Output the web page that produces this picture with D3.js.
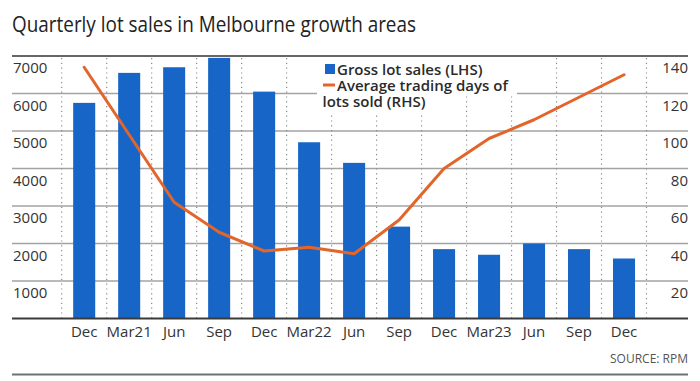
<!DOCTYPE html>
<html>
<head>
<meta charset="utf-8">
<script src="https://cdn.jsdelivr.net/npm/d3@7/dist/d3.min.js"></script>
<style>
  html, body { margin: 0; padding: 0; background: #fff; }
  svg { display: block; font-family: "Open Sans", "Noto Sans", sans-serif; }
</style>
</head>
<body>
<svg id="chart" width="700" height="381"></svg>
<script>
// ---- Data ----
const quarters = ["2020Q4","2021Q1","2021Q2","2021Q3","2021Q4","2022Q1","2022Q2","2022Q3","2022Q4","2023Q1","2023Q2","2023Q3","2023Q4"];
const tickLabels = ["Dec","Mar21","Jun","Sep","Dec","Mar22","Jun","Sep","Dec","Mar23","Jun","Sep","Dec"];
const lotSales = [5750, 6550, 6700, 6950, 6050, 4700, 4150, 2450, 1850, 1700, 2000, 1850, 1600];
const tradingDays = [134, 98, 62, 46, 36, 38, 34.5, 52.5, 80, 96, 106, 118, 130];
const leftTicks = [1000, 2000, 3000, 4000, 5000, 6000, 7000];
const rightTicks = [20, 40, 60, 80, 100, 120, 140];

const title = "Quarterly lot sales in Melbourne growth areas";
const legendBars = "Gross lot sales (LHS)";
const legendLine = ["Average trading days of", "lots sold (RHS)"];
const source = "SOURCE: RPM";

// ---- Layout ----
const svg = d3.select("#chart");
const frameL = 12, frameR = 688;
const plotTop = 56, plotBottom = 318.5;
const bandL = 61.7, bandR = 646.5;
const pad = 0.51;

const x = d3.scaleBand().domain(quarters).range([bandL, bandR])
  .paddingInner(pad).paddingOuter(pad / 2);
const yL = d3.scaleLinear().domain([0, 7000]).range([plotBottom, plotTop]);
const yR = d3.scaleLinear().domain([0, 140]).range([plotBottom, plotTop]);

const blue = "#1766c7";
const orange = "#e2652b";
const gridColor = "#a3a3a3";
const textColor = "#333";

// Title
svg.append("text").attr("x", frameL).attr("y", 32)
  .attr("font-size", 21).attr("fill", "#222")
  .attr("textLength", 404).attr("lengthAdjust", "spacingAndGlyphs")
  .text(title);

// Horizontal gridlines (below top)
svg.append("g").selectAll("line").data(leftTicks.filter(d => d < 7000)).join("line")
  .attr("x1", frameL).attr("x2", frameR)
  .attr("y1", d => yL(d)).attr("y2", d => yL(d))
  .attr("stroke", gridColor).attr("stroke-width", 1.3);

// Vertical dotted lines at band boundaries
const step = x.step();
const bounds = d3.range(quarters.length + 1).map(i => bandL + i * step);
svg.append("g").selectAll("line").data(bounds).join("line")
  .attr("x1", d => d).attr("x2", d => d)
  .attr("y1", plotTop + 2).attr("y2", plotBottom)
  .attr("stroke", "#8a8a8a").attr("stroke-width", 1.2)
  .attr("stroke-dasharray", "1.2,3.6");

// Left axis labels (hanging below gridline)
svg.append("g").selectAll("text").data(leftTicks).join("text")
  .attr("x", frameL + 1).attr("y", d => yL(d) + 17)
  .attr("font-size", 15).attr("fill", textColor).text(d => d);

// Right axis labels
svg.append("g").selectAll("text").data(rightTicks).join("text")
  .attr("x", frameR).attr("y", d => yR(d) + 17)
  .attr("text-anchor", "end")
  .attr("font-size", 15).attr("fill", textColor).text(d => d);

// Legend mask (white box hides grid behind legend text)
svg.append("rect").attr("x", 317).attr("y", plotTop + 1.5).attr("width", 200).attr("height", 38).attr("fill", "#fff");
svg.append("rect").attr("x", 317).attr("y", 95).attr("width", 128).attr("height", 19).attr("fill", "#fff");

// Bars
svg.append("g").selectAll("rect").data(quarters).join("rect")
  .attr("x", d => x(d)).attr("width", x.bandwidth())
  .attr("y", (d, i) => yL(lotSales[i]))
  .attr("height", (d, i) => plotBottom - yL(lotSales[i]))
  .attr("fill", blue);

// Top frame line & baseline
svg.append("line").attr("x1", frameL).attr("x2", frameR).attr("y1", plotTop).attr("y2", plotTop)
  .attr("stroke", "#666").attr("stroke-width", 2.2);
svg.append("line").attr("x1", frameL).attr("x2", frameR).attr("y1", plotBottom).attr("y2", plotBottom)
  .attr("stroke", "#3a3a3a").attr("stroke-width", 2);

// Line series
const line = d3.line()
  .x((d, i) => x(quarters[i]) + x.bandwidth() / 2)
  .y(d => yR(d))
  .curve(d3.curveLinear);
svg.append("path").datum(tradingDays).attr("d", line)
  .attr("fill", "none").attr("stroke", orange).attr("stroke-width", 3)
  .attr("stroke-linejoin", "round").attr("stroke-linecap", "round");

// X axis labels
svg.append("g").selectAll("text").data(quarters).join("text")
  .attr("x", d => x(d) + x.bandwidth() / 2).attr("y", 337)
  .attr("text-anchor", "middle").attr("font-size", 15).attr("fill", textColor)
  .text((d, i) => tickLabels[i]);

// Legend
const lg = svg.append("g").attr("font-size", 15).attr("font-weight", 600).attr("fill", "#2a2a2a");
lg.append("rect").attr("x", 325).attr("y", 64).attr("width", 10).attr("height", 10).attr("fill", blue);
lg.append("text").attr("x", 337).attr("y", 75).text(legendBars);
lg.append("line").attr("x1", 323).attr("x2", 335).attr("y1", 85).attr("y2", 85)
  .attr("stroke", orange).attr("stroke-width", 3);
lg.append("text").attr("x", 337).attr("y", 91).text(legendLine[0]);
lg.append("text").attr("x", 322.5).attr("y", 107).text(legendLine[1]);

// Source & bottom rule
svg.append("text").attr("x", frameR).attr("y", 363).attr("text-anchor", "end")
  .attr("font-size", 12).attr("fill", "#555").text(source);
svg.append("line").attr("x1", frameL).attr("x2", frameR).attr("y1", 374.5).attr("y2", 374.5)
  .attr("stroke", "#707070").attr("stroke-width", 2);
</script>
</body>
</html>
